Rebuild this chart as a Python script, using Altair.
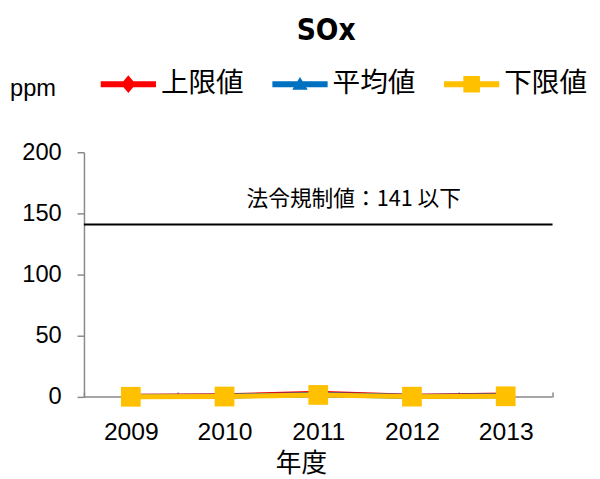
import altair as alt
import pandas as pd

years = ["2009", "2010", "2011", "2012", "2013"]
series_names = ["上限値", "平均値", "下限値"]
upper = [0.5, 1.0, 3.0, 0.6, 1.5]
mean = [0.3, 0.6, 2.0, 0.4, 0.9]
lower = [0.1, 0.3, 1.6, 0.2, 0.5]
colors = ["#FF0000", "#0070C0", "#FFC000"]
marker_shapes = ["diamond", "triangle-up", "square"]
marker_sizes = [220, 260, 400]
regulation = 141
regulation_label = "法令規制値：141 以下"

rows = []
for name, vals in zip(series_names, [upper, mean, lower]):
    for y, v in zip(years, vals):
        rows.append({"年度": y, "系列": name, "値": v})
df = pd.DataFrame(rows)
ann = pd.DataFrame({"label": [regulation_label]})

bar = "M-1,-0.107L1,-0.107L1,0.107L-1,0.107Z"
legend_paths = [
    bar + "M0,-0.32L0.27,0L0,0.32L-0.27,0Z",
    bar + "M0,-0.26L0.28,0.2L-0.28,0.2Z",
    bar + "M-0.3,-0.3L0.3,-0.3L0.3,0.3L-0.3,0.3Z",
]

JP = "Noto Sans CJK JP"
NUM = "Liberation Sans"
AXIS_GRAY = "#898989"

x_enc = alt.X(
    "年度:N",
    sort=years,
    scale=alt.Scale(type="band", paddingInner=0, paddingOuter=0),
    axis=alt.Axis(
        title="年度",
        titleFont=JP,
        titleFontSize=26,
        titleFontWeight="normal",
        titleColor="black",
        titlePadding=7,
        titleX=220,
        titleAlign="center",
        labelFont=NUM,
        labelFontSize=25,
        labelColor="black",
        labelAngle=0,
        labelAlign="center",
        labelPadding=35,
        tickBand="extent",
        tickSize=5,
        tickColor=AXIS_GRAY,
        tickWidth=1.5,
        offset=-5,
        domain=False,
        grid=False,
    ),
)
y_enc = alt.Y(
    "値:Q",
    scale=alt.Scale(domain=[0, 200]),
    axis=alt.Axis(
        title=None,
        values=[0, 50, 100, 150, 200],
        labelFont=NUM,
        labelFontSize=24,
        labelColor="black",
        labelPadding=16,
        tickSize=7,
        tickColor=AXIS_GRAY,
        tickWidth=1.5,
        domainColor=AXIS_GRAY,
        domainWidth=1.5,
        grid=False,
    ),
)

base = alt.Chart(df)
ann_base = alt.Chart(ann)

axis_line = ann_base.mark_rule(color=AXIS_GRAY, strokeWidth=1.5).encode(y=alt.datum(0))
reg_rule = ann_base.mark_rule(color="black", strokeWidth=2).encode(y=alt.datum(regulation))
reg_text = ann_base.mark_text(
    font=JP, fontSize=22, color="black", dx=36, dy=-26
).encode(text="label:N", x=alt.datum("2011"), y=alt.datum(regulation))

layers = [axis_line, reg_rule, reg_text]

for name, col, shp, sz in zip(series_names, colors, marker_shapes, marker_sizes):
    sub = base.transform_filter(alt.datum["系列"] == name)
    layers.append(sub.mark_line(color=col, strokeWidth=5).encode(x=x_enc, y=y_enc))
    layers.append(
        sub.mark_point(shape=shp, filled=True, color=col, size=sz, opacity=1).encode(x=x_enc, y=y_enc)
    )

legend = alt.Legend(
    title="ppm",
    titleOrient="left",
    titleAnchor="middle",
    titleFont=NUM,
    titleFontSize=24,
    titleFontWeight="normal",
    titleColor="black",
    titlePadding=45,
    titleBaseline="top",
    orient="none",
    legendX=-75,
    legendY=-97,
    direction="horizontal",
    labelFont=JP,
    labelFontSize=28,
    labelColor="black",
    labelOffset=5,
    columnPadding=28,
    symbolSize=3136,
    symbolStrokeWidth=0,
    symbolOpacity=1,
)

legend_layer = base.mark_point(filled=True, opacity=0).encode(
    x=x_enc,
    y=y_enc,
    color=alt.Color("系列:N", sort=series_names,
                    scale=alt.Scale(domain=series_names, range=colors), legend=legend),
    shape=alt.Shape("系列:N", sort=series_names,
                    scale=alt.Scale(domain=series_names, range=legend_paths), legend=legend),
)
layers.append(legend_layer)

chart = alt.layer(*layers).properties(
    width=475,
    height=248,
    padding={"left": 77, "top": 143, "right": 40, "bottom": 80},
    autosize=alt.AutoSizeParams(type="none"),
    background="white",
    title=alt.TitleParams(
        text="SOx",
        font="Liberation Sans Narrow, DejaVu Sans Condensed, sans-serif",
        fontSize=30,
        fontWeight="bold",
        color="black",
        anchor="middle",
        frame="group",
        offset=11,
        dx=8,
    ),
).configure_view(stroke=None)

chart.save("out.html", embed_options={"renderer": "svg", "actions": False})
